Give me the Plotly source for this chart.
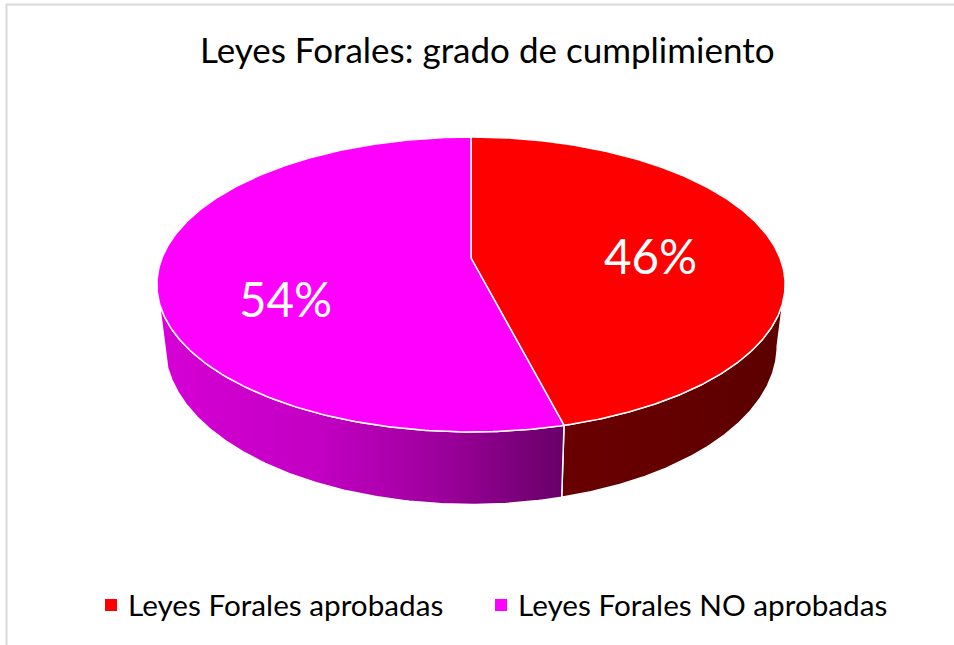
import numpy as np
import plotly.graph_objects as go

# ---- data ----
title_text = "Leyes Forales: grado de cumplimiento"
labels = ["Leyes Forales aprobadas", "Leyes Forales NO aprobadas"]
values = [46, 54]
top_colors = ["#FF0000", "#FF00FF"]
side_scales = [
    [[0, "#6A0000"], [1, "#5C0000"]],
    [[0, "#D600D6"], [0.4, "#C200C2"], [0.7, "#9C009C"], [1, "#680068"]],
]

# ---- projection of a 3D disc (perspective homography) ----
W, H = 954, 645
cx, cy = 471, 258
A, B, D = 309, 142.7, 5.57
depth = 59.5
sx = 0.975


def top_pt(phi):
    r = np.radians(phi)
    u, v = np.sin(r), -np.cos(r)
    w = D / (D - v)
    return cx + A * u * w, cy + B * v * w


def bot_pt(phi):
    r = np.radians(phi)
    u, v = np.sin(r), -np.cos(r)
    w = D / (D - v)
    return cx + A * u * w * sx, cy + B * v * w + depth * w


def inner_pt(phi, frac):
    r = np.radians(phi)
    u, v = frac * np.sin(r), -frac * np.cos(r)
    w = D / (D - v)
    return cx + A * u * w, cy + B * v * w


total = sum(values)
bounds = [0]
for v in values:
    bounds.append(bounds[-1] + 360 * v / total)

# visible front arc of the side (between silhouette points)
vis0 = np.degrees(np.arccos(-1 / D))
vis1 = 360 - vis0

fig = go.Figure()

# sides
for i in range(len(values)):
    a0, a1 = max(bounds[i], vis0), min(bounds[i + 1], vis1)
    if a1 <= a0:
        continue
    ph = np.linspace(a0, a1, 200)
    tx, ty = top_pt(ph)
    bx, by = bot_pt(ph[::-1])
    xs = np.concatenate([tx, bx, tx[:1]])
    ys = np.concatenate([ty, by, ty[:1]])
    fig.add_trace(go.Scatter(
        x=xs, y=ys, mode="lines", fill="toself",
        fillgradient=dict(type="horizontal", colorscale=side_scales[i],
                          start=float(xs.min()), stop=float(xs.max())),
        line=dict(color="white", width=1.5),
        hoverinfo="skip", showlegend=False))

# top faces
for i in range(len(values)):
    ph = np.linspace(bounds[i], bounds[i + 1], 300)
    tx, ty = top_pt(ph)
    xs = np.concatenate([[cx], tx, [cx]])
    ys = np.concatenate([[cy], ty, [cy]])
    fig.add_trace(go.Scatter(
        x=xs, y=ys, mode="lines", fill="toself", fillcolor=top_colors[i],
        line=dict(color="white", width=1.5),
        hoverinfo="skip", showlegend=False, name=labels[i]))

# percentage labels
label_shift = [(4, 8), (-5, 30)]
for i in range(len(values)):
    mid = (bounds[i] + bounds[i + 1]) / 2
    lx, ly = inner_pt(mid, 0.58)
    fig.add_annotation(x=lx + label_shift[i][0], y=ly + label_shift[i][1],
                       text=f"{values[i] / total * 100:.0f}%",
                       showarrow=False, font=dict(family="Lato", size=47.5, color="white"),
                       xanchor="center", yanchor="middle")

# title
fig.add_annotation(x=487.5, y=49, text=title_text, showarrow=False,
                   font=dict(family="Lato", size=35, color="black"),
                   xanchor="center", yanchor="middle")

# legend
leg_sq_x = [105, 495]
for i in range(len(values)):
    fig.add_shape(type="rect", x0=leg_sq_x[i], x1=leg_sq_x[i] + 12, y0=599, y1=611,
                  fillcolor=top_colors[i], line=dict(width=0))
    fig.add_annotation(x=leg_sq_x[i] + 21, y=604, text=labels[i], showarrow=False,
                       font=dict(family="Lato", size=29.7, color="black"),
                       xanchor="left", yanchor="middle")

# border
fig.add_shape(type="line", x0=6, x1=954, y0=4.5, y1=4.5, line=dict(color="#D9D9D9", width=2))
fig.add_shape(type="line", x0=6.5, x1=6.5, y0=4, y1=645, line=dict(color="#D9D9D9", width=2))

fig.update_layout(
    width=W, height=H, autosize=False,
    margin=dict(l=0, r=0, t=0, b=0),
    paper_bgcolor="white", plot_bgcolor="white",
    xaxis=dict(range=[0, W], visible=False, fixedrange=True),
    yaxis=dict(range=[H, 0], visible=False, fixedrange=True),
    showlegend=False,
)

fig.write_html("out.html", config={"displayModeBar": False},
               post_script="document.body.style.margin='0';document.body.style.overflow='hidden';")
